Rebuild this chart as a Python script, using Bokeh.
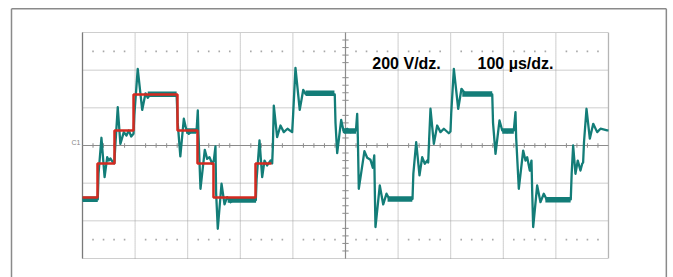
from bokeh.plotting import figure
from bokeh.models import Range1d
from bokeh.embed import file_html
from bokeh.resources import INLINE
from bokeh.core.properties import value

# ---------------- data (time in µs, voltage in V) ----------------
trace_t = [0, 29, 30.5, 36, 42, 47, 50, 53, 57.6, 60.5, 62, 67, 72, 78.5, 83.6, 88, 92.6, 97,
           98.5, 105, 113.5, 119.8, 124, 129, 179, 181, 186, 192.6, 197.7, 202, 208.6, 216.7,
           219.2, 220.5, 224.3, 232.5, 237, 241.4, 246.6, 249.6, 252.8, 254, 257.2, 264.3, 270,
           275, 281.4, 287.6, 329.5, 331, 336.5, 341.6, 346, 351, 357.4, 360.6, 362, 363.7, 370,
           376.4, 382.7, 389.7, 398.6, 400, 404.9, 413, 419.6, 424, 430, 479.6, 481, 484.2,
           491.8, 496.8, 503.2, 509.5, 519.9, 522.2, 523.5, 525.3, 536, 541.2, 547.5, 551.9,
           554.7, 555.8, 557, 565.2, 571.7, 578, 584.2, 591, 627.4, 629, 634.4, 640.7, 645.8,
           650.8, 655.3, 657.2, 659, 661.6, 668, 674.3, 680.6, 687, 696.4, 699.6, 701, 706,
           714.3, 720.5, 728, 753, 779, 780.5, 785.2, 792.8, 798, 807.4, 820, 823.2, 824.5,
           829.5, 837.8, 842.2, 845.4, 850.4, 853.6, 855, 856.8, 864.4, 870.7, 877, 883.4,
           928.3, 930, 932.8, 937.2, 941.6, 946.7, 950, 951.8, 953.5, 958.2, 964.5, 971, 978.5,
           984.8, 997.5, 1000]
trace_v = [-286, -286, -150, 41, -168, -62, -80, -69, -88, -95, -20, 203, 9, 71, 53, 80, 48, 62,
           160, 407, 189, 277, 253, 271, 265, 120, -58, 142, 80, 62, 80, 71,
           186, 60, -230, -23, -71, -62, -97, -80, -5, -250, -442, -203, -313,
           -274, -301, -288, -290, -180, 27, -168, -80, -106, -80, -95, 0, 212, 44,
           106, 71, 89, 71, 140, 412, 189, 295, 274, 283, 271, 120, -41,
           136, 71, 89, 71, 80, 168, 40, -230, -30, -65, -76, -118,
           -53, -250, -433, -212, -313, -256, -288, -279, -284, -150, 18, -159, -62,
           -97, -80, -90, 30, 195, 9, 106, 71, 89, 65, 74, 170, 407,
           195, 301, 274, 274, 271, 120, -44, 133, 80, 71, 80, 177, 40,
           -230, -27, -80, -62, -133, -80, -250, -433, -212, -301, -256, -292,
           -286, -150, 0, -150, -80, -133, -97, -90, 20, 195, 36, 115, 71,
           89, 80, 80]

# noisy plateaus (thick band of the trace)
band_start = [0, 124, 276, 424, 580, 722, 880, 197, 497, 798]
band_end = [29, 179, 330, 479, 627, 779, 928, 216, 520, 820]
band_level = [-286, 272, -289, 278, -284, 274, -288, 77, 77, 77]

# red reference staircase (first period)
ref_t = [0, 28.5, 60.8, 97, 180.6, 218.6, 249, 328.9, 359.3]
ref_v = [-276, -95, 80, 271, 80, -95, -276, -95, -95]

# graticule: 10 x 100 µs, 6 x 200 V
div_t = [0, 100, 200, 300, 400, 500, 600, 700, 800, 900, 1000]
div_v = [-600, -400, -200, 0, 200, 400, 600]

label_volts = "200 V/dz."
label_time = "100 \u00b5s/dz."

# ---------------- figure ----------------
W, H = 673, 277
p = figure(width=W, height=H, output_backend="svg", toolbar_location=None,
           x_axis_location=None, y_axis_location=None,
           x_range=Range1d(-155.9, 1123.6), y_range=Range1d(-700.9, 769.9),
           min_border=0, outline_line_color=None, background_fill_color="white",
           border_fill_color="white")
p.xgrid.visible = False
p.ygrid.visible = False

grid_col = "#9c9c9c"
t_lo, t_hi = div_t[0], div_t[-1]
v_lo, v_hi = div_v[0], div_v[-1]

# outer instrument frame
fx0, fx1, fy0, fy1 = -135, 1110, -760, 725.5
p.segment(x0=[fx0, fx0, fx1], y0=[fy0, fy1, fy1], x1=[fx0, fx1, fx1], y1=[fy1, fy1, fy0],
          line_color="#8a8a8a", line_width=1.5)

# inner dotted grid lines
inner_t = div_t[1:-1]
p.segment(x0=inner_t, y0=[v_lo] * len(inner_t), x1=inner_t, y1=[v_hi] * len(inner_t),
          line_color=grid_col, line_width=1, line_dash="1 1")
p.segment(x0=[t_lo] * len(div_v), y0=div_v, x1=[t_hi] * len(div_v), y1=div_v,
          line_color=grid_col, line_width=1, line_dash="1 1")
# left / right edges of graticule
p.segment(x0=[t_lo], y0=[v_lo], x1=[t_lo], y1=[v_hi], line_color="#7a7a7a", line_width=1.3)
p.segment(x0=[t_hi], y0=[v_lo], x1=[t_hi], y1=[v_hi], line_color="#b5b5b5", line_width=1.3)

# sparse dotted rows at +/- 2.5 div
half_t = [t for t in range(20, 1000, 20) if t % 100]
p.scatter(x=half_t * 2, y=[500] * len(half_t) + [-500] * len(half_t), size=1.6,
          marker="square", fill_color="#a8a8a8", line_color=None)

# centre axes with minor ticks
p.segment(x0=[t_lo], y0=[0], x1=[t_hi], y1=[0], line_color="#8c8c8c", line_width=1.2)
p.segment(x0=[500], y0=[v_lo], x1=[500], y1=[v_hi], line_color="#8c8c8c", line_width=1.2)
tick_t = [t for t in range(0, 1001, 20) if t % 100]
p.segment(x0=tick_t, y0=[-12] * len(tick_t), x1=tick_t, y1=[12] * len(tick_t),
          line_color="#8c8c8c", line_width=1)
tick_v = [v for v in range(-600, 601, 40) if v % 200]
p.segment(x0=[494] * len(tick_v), y0=tick_v, x1=[506] * len(tick_v), y1=tick_v,
          line_color="#8c8c8c", line_width=1)

# trace
p.segment(x0=band_start, y0=band_level, x1=band_end, y1=band_level,
          line_color="#137d78", line_width=5.5)
p.line(trace_t, trace_v, line_color="#137d78", line_width=2.3, line_join="round")

# reference staircase
p.step(ref_t, ref_v, mode="after", line_color="#d42a20", line_width=2.5)

# texts
p.text(x=[551, 751], y=[435, 435], text=[label_volts, label_time],
       text_font=value("Liberation Sans"), text_font_style="bold",
       text_font_size="16px", text_color="black", text_baseline="alphabetic")
p.text(x=[-4], y=[14], text=["C1"], text_font=value("Liberation Sans"),
       text_font_size="7px", text_color="#888888", text_align="right",
       text_baseline="alphabetic")

open("out.html", "w").write(file_html(p, INLINE))
